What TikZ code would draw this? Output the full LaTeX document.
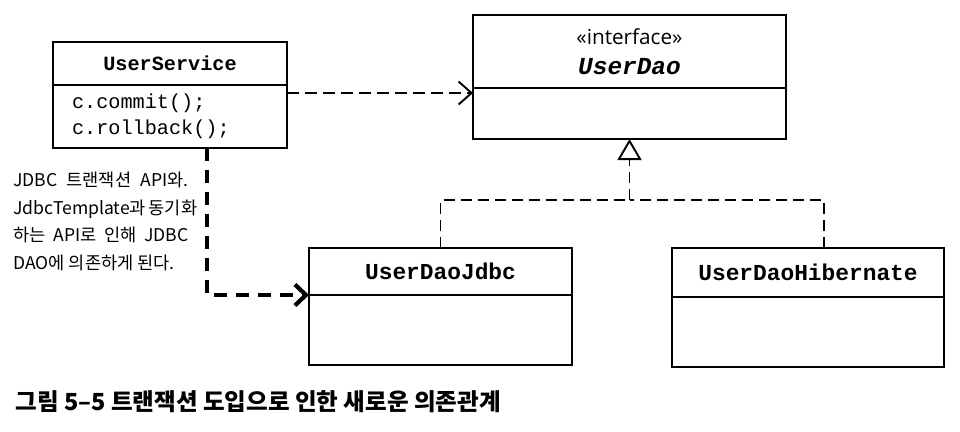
\documentclass[tikz,border=0pt]{standalone}
\usepackage{fontspec}
\setmonofont{Liberation Mono}
\newfontfamily\krfont{Noto Sans CJK KR}
\newfontfamily\stereofont{Open Sans}
\usetikzlibrary{positioning,arrows.meta}

\begin{document}
\begin{tikzpicture}[
    classhead/.style={rectangle, draw, line width=1pt, inner sep=0pt, outer sep=0pt, align=center, font=\ttfamily\bfseries\fontsize{13}{15}\selectfont},
    classbody/.style={rectangle, draw, line width=1pt, inner sep=0pt, outer sep=0pt},
    uses/.style={line width=1.1pt, dash pattern=on 2.4mm off 1.2mm, -{Straight Barb[length=2.6mm, width=4.6mm]}},
    usesthick/.style={line width=2.4pt, dash pattern=on 2.6mm off 1.8mm, -{Straight Barb[length=2.2mm, width=4.2mm]}},
    realizes/.style={line width=1.1pt, dash pattern=on 2.2mm off 1.2mm},
    note/.style={inner sep=0pt, align=left, font=\krfont\fontsize{10}{15.7}\selectfont}
]

\useasboundingbox (0,0) rectangle (19.2,-8.62);

% UserService
\node[classhead, anchor=north west, minimum width=4.68cm, minimum height=0.86cm, font=\ttfamily\bfseries\fontsize{11.5}{14}\selectfont] (svchead) at (1.06,-0.84) {UserService};
\node[classbody, below=0pt of svchead, minimum width=4.68cm, minimum height=1.26cm, text width=3.92cm, inner xsep=0.38cm, align=left, font=\ttfamily\fontsize{11.5}{14.8}\selectfont] (svcbody) {c.commit();\\c.rollback();};

% UserDao interface
\node[classhead, anchor=north west, minimum width=6.26cm, minimum height=1.46cm] (daohead) at (9.46,-0.30) {{\stereofont\mdseries\fontsize{11.8}{13}\selectfont «interface»}\\[2pt]{\itshape\fontsize{13.9}{15}\selectfont UserDao}};
\node[classbody, below=0pt of daohead, minimum width=6.26cm, minimum height=1.02cm] (daobody) {};

% implementations
\node[classhead, anchor=north west, minimum width=5.26cm, minimum height=0.94cm] (jdbchead) at (6.18,-4.96) {UserDaoJdbc};
\node[classbody, below=0pt of jdbchead, minimum width=5.26cm, minimum height=1.40cm] (jdbcbody) {};
\node[classhead, anchor=north west, minimum width=5.44cm, minimum height=0.98cm] (hibhead) at (13.44,-4.96) {UserDaoHibernate};
\node[classbody, below=0pt of hibhead, minimum width=5.44cm, minimum height=1.40cm] (hibbody) {};

% dependency arrows
\coordinate (usesstart) at ([yshift=-0.16cm]svcbody.north east);
\draw[uses] (usesstart) -- (usesstart -| daobody.west);
\coordinate (jdbcstart) at ([xshift=0.74cm]svcbody.south);
\draw[usesthick] (jdbcstart) |- (jdbchead.south west);

% realization
\coordinate (join) at ([yshift=-1.22cm]daobody.south);
\draw[realizes] (jdbchead.north) |- (join);
\draw[realizes] ([xshift=0.32cm]hibhead.north) |- (join);
\draw[realizes, -{Triangle[open, length=4.2mm, width=4.8mm]}] (join) -- (daobody.south);

% note
\node[note, anchor=west] (jdbcnote) at (0.26,-4.43) {\makebox[3.5cm][s]{JDBC 트랜잭션 API와.}\\\makebox[3.5cm][s]{JdbcTemplate과 동기화}\\\makebox[3.5cm][s]{하는 API로 인해 JDBC}\\DAO에 의존하게 된다.};

% caption
\node[inner sep=0pt, anchor=west, font=\krfont\bfseries\fontsize{13.4}{16}\selectfont] (caption) at (0.30,-8.04) {그림 5–5 트랜잭션 도입으로 인한 새로운 의존관계};

\end{tikzpicture}
\end{document}
